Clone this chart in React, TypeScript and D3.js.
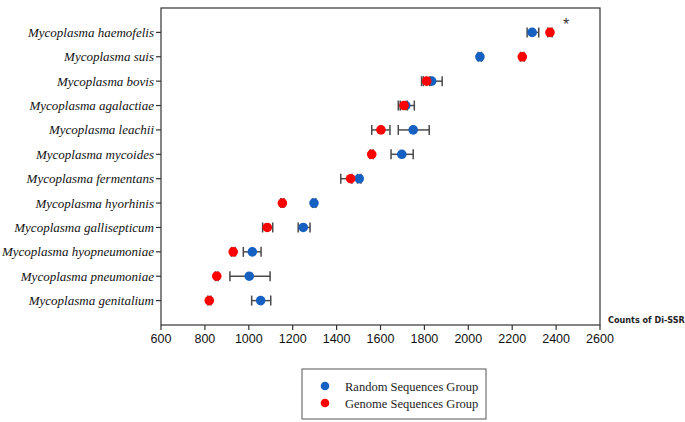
import React from "react";
import * as d3 from "d3";

const species = [
  "Mycoplasma haemofelis",
  "Mycoplasma suis",
  "Mycoplasma bovis",
  "Mycoplasma agalactiae",
  "Mycoplasma leachii ",
  "Mycoplasma mycoides ",
  "Mycoplasma fermentans",
  "Mycoplasma hyorhinis",
  "Mycoplasma gallisepticum",
  "Mycoplasma hyopneumoniae",
  "Mycoplasma pneumoniae",
  "Mycoplasma genitalium",
];
// Random sequences group: mean, low, high
const randomMean = [2291, 2053, 1833, 1715, 1749, 1697, 1503, 1297, 1248, 1016, 1002, 1054];
const randomLow = [2268, 2045, 1787, 1681, 1681, 1648, 1495, 1290, 1225, 975, 914, 1013];
const randomHigh = [2321, 2060, 1881, 1754, 1822, 1749, 1511, 1305, 1279, 1056, 1097, 1100];
// Genome sequences group
const genomeMean = [2372, 2246, 1810, 1707, 1602, 1560, 1464, 1153, 1084, 929, 854, 820];
const genomeLow = [2362, 2238, 1795, 1690, 1560, 1553, 1419, 1146, 1063, 921, 848, 813];
const genomeHigh = [2382, 2254, 1825, 1722, 1643, 1567, 1470, 1160, 1109, 937, 860, 827];
const xTicks = [600, 800, 1000, 1200, 1400, 1600, 1800, 2000, 2200, 2400, 2600];
const legendLabels = ["Random Sequences Group", "Genome Sequences Group"];

const BLUE = "#1660c2";
const RED = "#ff0000";
const BAR = "#4a4a4a";

export default function App() {
  const left = 161, right = 600, top = 8, bottom = 325;
  const x = d3.scaleLinear().domain([600, 2600]).range([left, right]);
  const y = d3.scalePoint<string>().domain(species).range([top, bottom]).padding(1);

  const series = [
    { mean: randomMean, low: randomLow, high: randomHigh, color: BLUE },
    { mean: genomeMean, low: genomeLow, high: genomeHigh, color: RED },
  ];

  return (
    <svg width={685} height={422} style={{ position: "absolute", left: 0, top: 0 }}>
      <rect x={0} y={0} width={685} height={422} fill="#fff" />
      {/* frame */}
      <rect x={left} y={top} width={right - left} height={bottom - top} fill="none" stroke="#333" strokeWidth={1.2} />
      {/* y ticks + labels */}
      {species.map((s) => (
        <g key={s}>
          <line x1={left - 5} x2={left} y1={y(s)} y2={y(s)} stroke="#333" strokeWidth={1.2} />
          <text
            x={left - 7}
            y={(y(s) as number) + 4.5}
            textAnchor="end"
            fontFamily="'Liberation Serif', 'Times New Roman', serif"
            fontStyle="italic"
            fontSize={13}
            fill="#111"
            style={{ whiteSpace: "pre" }}
          >
            {s.trimEnd()}
          </text>
        </g>
      ))}
      {/* x ticks */}
      {xTicks.map((t) => (
        <g key={t}>
          <line x1={x(t)} x2={x(t)} y1={bottom} y2={bottom + 5} stroke="#333" strokeWidth={1.2} />
          <text
            x={x(t)}
            y={bottom + 18}
            textAnchor="middle"
            fontFamily="'Liberation Sans', Arial, sans-serif"
            fontSize={12.5}
            fill="#111"
          >
            {t}
          </text>
        </g>
      ))}
      <text
        x={608}
        y={323}
        fontFamily="'DejaVu Sans Condensed', 'Liberation Sans Narrow', sans-serif"
        fontWeight="bold"
        fontSize={9}
        fill="#222"
      >
        Counts of Di-SSR
      </text>
      {/* data */}
      {series.map((sr, si) => (
        <g key={si}>
          {species.map((s, i) => {
            const cy = y(s) as number;
            const x1 = x(sr.low[i]);
            const x2 = x(sr.high[i]);
            return (
              <g key={s}>
                <line x1={x1} x2={x2} y1={cy} y2={cy} stroke={BAR} strokeWidth={1.5} />
                <line x1={x1} x2={x1} y1={cy - 5} y2={cy + 5} stroke={BAR} strokeWidth={1.5} />
                <line x1={x2} x2={x2} y1={cy - 5} y2={cy + 5} stroke={BAR} strokeWidth={1.5} />
                <circle cx={x(sr.mean[i])} cy={cy} r={4.8} fill={sr.color} />
              </g>
            );
          })}
        </g>
      ))}
      {/* asterisk */}
      <text x={563} y={30} fontFamily="'Liberation Sans', Arial, sans-serif" fontSize={16} fill="#333">
        *
      </text>
      {/* legend */}
      <rect x={302} y={369} width={184} height={50} fill="#fff" stroke="#555" strokeWidth={1} />
      {legendLabels.map((l, i) => (
        <g key={l}>
          <circle cx={325} cy={386 + i * 17} r={4.3} fill={i === 0 ? BLUE : RED} />
          <text
            x={345}
            y={390.5 + i * 17}
            fontFamily="'Liberation Serif', 'Times New Roman', serif"
            fontSize={12.5}
            fill="#222"
          >
            {l}
          </text>
        </g>
      ))}
    </svg>
  );
}
